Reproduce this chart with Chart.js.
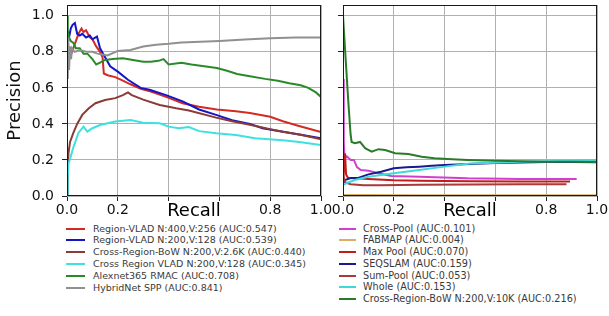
<!DOCTYPE html>
<html>
<head>
<meta charset="utf-8">
<script src="https://cdn.jsdelivr.net/npm/chart.js@4.4.1/dist/chart.umd.min.js"></script>
<style>
  html, body { margin:0; padding:0; background:#fff; }
  #wrap { position:relative; width:609px; height:316px; overflow:hidden; background:#fff; }
  canvas { position:absolute; top:0; }
  #c1 { left:0; }
  #c2 { left:320px; }
  .lg { position:absolute; font-family:"DejaVu Sans", sans-serif; font-size:9.5px; line-height:12px; color:#3a3a3a; white-space:nowrap; }
  .lgr { font-size:9.7px; }
  .lgl { position:absolute; height:2px; }
</style>
</head>
<body>
<div id="wrap">
  <canvas id="c1" width="336" height="222"></canvas>
  <canvas id="c2" width="289" height="222"></canvas>
</div>
<script>
// ---------- axis / tick data ----------
const xTicks = [0, 0.2, 0.4, 0.6, 0.8, 1.0];
const xTickLabels = ['0.0', '0.2', '', '', '0.8', '1.0'];
const yTicks = [0, 0.2, 0.4, 0.6, 0.8, 1.0];
const yTickLabels = ['0.0', '0.2', '0.4', '0.6', '0.8', '1.0'];
const xTitle = 'Recall';
const yTitle = 'Precision';

// ---------- left panel series ----------
const leftNames = [
  'Region-VLAD N:400,V:256 (AUC:0.547)',
  'Region-VLAD N:200,V:128 (AUC:0.539)',
  'Cross-Region-BoW N:200,V:2.6K (AUC:0.440)',
  'Cross Region VLAD N:200,V:128 (AUC:0.345)',
  'Alexnet365 RMAC  (AUC:0.708)',
  'HybridNet SPP (AUC:0.841)'
];
const leftColors = ['#d42a24', '#1515c8', '#8b3a36', '#3ee0e0', '#2a8a2a', '#909090'];

const rvlad400R = [0, 0.005, 0.01, 0.02, 0.03, 0.045, 0.057, 0.065, 0.075, 0.09, 0.1, 0.115, 0.13, 0.14, 0.145, 0.16, 0.19, 0.22, 0.25, 0.29, 0.33, 0.39, 0.455, 0.52, 0.59, 0.665, 0.72, 0.8, 0.85, 0.91, 0.96, 1.0];
const rvlad400P = [0.8, 0.78, 0.82, 0.8, 0.84, 0.9, 0.93, 0.91, 0.92, 0.88, 0.87, 0.83, 0.8, 0.77, 0.68, 0.67, 0.66, 0.64, 0.62, 0.595, 0.58, 0.55, 0.515, 0.495, 0.48, 0.47, 0.46, 0.44, 0.415, 0.39, 0.37, 0.355];

const rvlad200R = [0.003, 0.008, 0.015, 0.022, 0.031, 0.04, 0.05, 0.06, 0.075, 0.09, 0.1, 0.118, 0.13, 0.15, 0.17, 0.2, 0.24, 0.29, 0.325, 0.39, 0.455, 0.52, 0.587, 0.65, 0.72, 0.77, 0.85, 0.92, 1.0];
const rvlad200P = [0.85, 0.88, 0.93, 0.95, 0.96, 0.9, 0.89, 0.9, 0.88, 0.89, 0.87, 0.885, 0.82, 0.77, 0.72, 0.69, 0.645, 0.6, 0.59, 0.56, 0.525, 0.48, 0.45, 0.42, 0.4, 0.376, 0.357, 0.34, 0.32];

const crbow26R = [0, 0.003, 0.006, 0.012, 0.025, 0.04, 0.06, 0.086, 0.112, 0.15, 0.19, 0.22, 0.24, 0.255, 0.3, 0.365, 0.43, 0.48, 0.587, 0.65, 0.72, 0.8, 0.85, 0.92, 1.0];
const crbow26P = [0.0, 0.15, 0.24, 0.3, 0.35, 0.40, 0.45, 0.487, 0.515, 0.533, 0.543, 0.56, 0.575, 0.56, 0.535, 0.505, 0.487, 0.475, 0.435, 0.415, 0.395, 0.37, 0.357, 0.34, 0.315];

const crvladR = [0, 0.003, 0.006, 0.015, 0.025, 0.045, 0.065, 0.08, 0.1, 0.13, 0.19, 0.25, 0.3, 0.365, 0.4, 0.44, 0.48, 0.52, 0.587, 0.665, 0.74, 0.85, 0.914, 1.0];
const crvladP = [0.0, 0.1, 0.18, 0.22, 0.27, 0.35, 0.385, 0.357, 0.376, 0.394, 0.413, 0.422, 0.407, 0.404, 0.385, 0.376, 0.383, 0.36, 0.348, 0.339, 0.32, 0.31, 0.3, 0.283];

const alexR = [0, 0.003, 0.008, 0.015, 0.025, 0.035, 0.05, 0.065, 0.08, 0.1, 0.115, 0.13, 0.15, 0.18, 0.22, 0.26, 0.3, 0.33, 0.36, 0.38, 0.40, 0.45, 0.49, 0.54, 0.59, 0.63, 0.67, 0.72, 0.78, 0.83, 0.875, 0.92, 0.95, 0.98, 1.0];
const alexP = [1.0, 0.92, 0.88, 0.86, 0.85, 0.82, 0.82, 0.79, 0.79, 0.76, 0.73, 0.74, 0.755, 0.76, 0.765, 0.755, 0.745, 0.745, 0.75, 0.76, 0.73, 0.74, 0.73, 0.72, 0.71, 0.695, 0.677, 0.665, 0.65, 0.64, 0.626, 0.615, 0.60, 0.575, 0.55];

const hybridR = [0, 0.003, 0.005, 0.008, 0.012, 0.016, 0.02, 0.03, 0.05, 0.08, 0.1, 0.12, 0.14, 0.16, 0.2, 0.25, 0.3, 0.35, 0.4, 0.45, 0.5, 0.6, 0.7, 0.8, 0.9, 1.0];
const hybridP = [0.8, 0.65, 0.88, 0.7, 0.83, 0.76, 0.82, 0.8, 0.81, 0.8, 0.8, 0.79, 0.785, 0.78, 0.805, 0.81, 0.83, 0.84, 0.845, 0.852, 0.855, 0.86, 0.868, 0.875, 0.879, 0.88];

// ---------- right panel series ----------
const rightNames = [
  'Cross-Pool (AUC:0.101)',
  'FABMAP (AUC:0.004)',
  'Max Pool (AUC:0.070)',
  'SEQSLAM (AUC:0.159)',
  'Sum-Pool (AUC:0.053)',
  'Whole (AUC:0.153)',
  'Cross-Region-BoW N:200,V:10K (AUC:0.216)'
];
const rightColors = ['#d040d0', '#d8b060', '#c21c1c', '#1a1a90', '#a83a3a', '#40d8d8', '#2a7a2a'];

const crossPoolR = [0, 0.003, 0.006, 0.015, 0.03, 0.043, 0.055, 0.07, 0.1, 0.14, 0.19, 0.3, 0.49, 0.7, 0.92];
const crossPoolP = [0.65, 0.3, 0.21, 0.22, 0.2, 0.2, 0.16, 0.144, 0.14, 0.126, 0.111, 0.107, 0.098, 0.095, 0.094];

const fabmapR = [0, 0.1, 0.3, 0.5, 0.7, 0.9, 1.0];
const fabmapP = [0.006, 0.005, 0.004, 0.004, 0.004, 0.004, 0.004];

const maxPoolR = [0, 0.004, 0.008, 0.012, 0.02, 0.05, 0.1, 0.2, 0.3, 0.5, 0.7, 0.894];
const maxPoolP = [0.06, 0.15, 0.237, 0.12, 0.1, 0.098, 0.095, 0.088, 0.085, 0.082, 0.08, 0.08];

const seqslamR = [0, 0.01, 0.03, 0.06, 0.1, 0.15, 0.2, 0.25, 0.3, 0.35, 0.4, 0.5, 0.6, 0.7, 0.8, 0.9, 1.0];
const seqslamP = [0.07, 0.09, 0.1, 0.1, 0.12, 0.135, 0.154, 0.159, 0.163, 0.168, 0.172, 0.178, 0.183, 0.186, 0.188, 0.188, 0.187];

const sumPoolR = [0, 0.005, 0.01, 0.03, 0.08, 0.15, 0.3, 0.5, 0.7, 0.88];
const sumPoolP = [0.12, 0.09, 0.075, 0.065, 0.06, 0.06, 0.062, 0.064, 0.065, 0.065];

const wholeR = [0, 0.02, 0.05, 0.1, 0.2, 0.3, 0.4, 0.5, 0.6, 0.7, 0.8, 0.9, 1.0];
const wholeP = [0.06, 0.075, 0.09, 0.107, 0.126, 0.144, 0.163, 0.18, 0.185, 0.19, 0.193, 0.196, 0.2];

const crbow10R = [0, 0.01, 0.021, 0.03, 0.034, 0.047, 0.067, 0.087, 0.113, 0.14, 0.166, 0.205, 0.257, 0.31, 0.36, 0.43, 0.49, 0.6, 0.7, 0.8, 0.9, 1.0];
const crbow10P = [1.0, 0.77, 0.52, 0.34, 0.30, 0.293, 0.30, 0.265, 0.246, 0.26, 0.255, 0.237, 0.233, 0.218, 0.209, 0.204, 0.2, 0.195, 0.193, 0.19, 0.19, 0.188];

// ---------- build ----------
const pts = (r, p) => r.map((x, i) => ({ x: x, y: p[i] }));
const leftSeries = [[rvlad400R, rvlad400P], [rvlad200R, rvlad200P], [crbow26R, crbow26P], [crvladR, crvladP], [alexR, alexP], [hybridR, hybridP]];
const rightSeries = [[crossPoolR, crossPoolP], [fabmapR, fabmapP], [maxPoolR, maxPoolP], [seqslamR, seqslamP], [sumPoolR, sumPoolP], [wholeR, wholeP], [crbow10R, crbow10P]];

function makeDatasets(series, names, colors) {
  const n = series.length;
  return series.map((s, i) => ({
    label: names[i],
    data: pts(s[0], s[1]),
    borderColor: colors[i],
    backgroundColor: colors[i],
    borderWidth: 2,
    pointRadius: 0,
    tension: 0,
    fill: false,
    order: n - i
  }));
}

const FONT = '"DejaVu Sans", sans-serif';

const framePlugin = {
  id: 'frame',
  afterDraw(chart) {
    const ctx = chart.ctx, a = chart.chartArea;
    ctx.save();
    ctx.strokeStyle = '#1a1a1a';
    ctx.lineWidth = 1;
    const l = Math.round(a.left) + 0.5, t = Math.round(a.top) + 0.5;
    const r = Math.round(a.right) - 0.5, b = Math.round(a.bottom) - 0.5;
    ctx.strokeRect(l, t, r - l, b - t);
    ctx.fillStyle = '#000';
    ctx.font = '18px ' + FONT;
    ctx.textAlign = 'center';
    ctx.textBaseline = 'alphabetic';
    ctx.fillText(xTitle, chart.scales.x.getPixelForValue(0.5), 215.5);
    ctx.restore();
  }
};

function makeChart(id, datasets, yAxisWidth, padRight, showYLabels) {
  return new Chart(document.getElementById(id), {
    type: 'line',
    data: { datasets: datasets },
    plugins: [framePlugin],
    options: {
      responsive: false,
      animation: false,
      devicePixelRatio: 1,
      events: [],
      layout: { padding: { top: 5, right: padRight, left: 0, bottom: 0 } },
      plugins: { legend: { display: false }, tooltip: { enabled: false } },
      scales: {
        x: {
          type: 'linear', min: 0, max: 1,
          afterBuildTicks: s => { s.ticks = xTicks.map(v => ({ value: v })); },
          ticks: {
            callback: (v, i) => xTickLabels[i],
            font: { family: FONT, size: 14 }, color: '#111',
            padding: 1, maxRotation: 0, minRotation: 0, autoSkip: false
          },
          grid: { color: '#b0b0b0', lineWidth: 1, tickColor: '#222', tickLength: 5, drawTicks: true },
          border: { display: false },
          afterFit: s => { s.height = 26; s.paddingLeft = 0; s.paddingRight = 0; }
        },
        y: {
          type: 'linear', min: 0, max: 1.06,
          afterBuildTicks: s => { s.ticks = yTicks.map(v => ({ value: v })); },
          ticks: {
            callback: (v, i) => showYLabels ? yTickLabels[i] : '',
            font: { family: FONT, size: 14 }, color: '#111',
            padding: 8, autoSkip: false
          },
          title: showYLabels ? {
            display: true, text: yTitle, color: '#111',
            font: { family: FONT, size: 18 }, padding: { top: 5, bottom: 0 }
          } : { display: false },
          grid: { color: '#b0b0b0', lineWidth: 1, tickColor: '#222', tickLength: 5, drawTicks: true },
          border: { display: false },
          afterFit: s => { s.width = yAxisWidth; s.paddingTop = 0; s.paddingBottom = 0; }
        }
      }
    }
  });
}

makeChart('c1', makeDatasets(leftSeries, leftNames, leftColors), 67, 336 - 321, true);
makeChart('c2', makeDatasets(rightSeries, rightNames, rightColors), 23, 289 - 277, false);

// ---------- legends (HTML text) ----------
function addLegend(names, colors, lineX, lineW, textX, y0, dy, extraClass) {
  const wrap = document.getElementById('wrap');
  names.forEach((name, i) => {
    const yc = y0 + i * dy;
    const ln = document.createElement('div');
    ln.className = 'lgl';
    ln.style.left = lineX + 'px';
    ln.style.width = lineW + 'px';
    ln.style.top = (yc - 1) + 'px';
    ln.style.background = colors[i];
    wrap.appendChild(ln);
    const tx = document.createElement('div');
    tx.className = 'lg' + (extraClass ? ' ' + extraClass : '');
    tx.style.left = textX + 'px';
    tx.style.top = (yc - 6) + 'px';
    tx.textContent = name;
    wrap.appendChild(tx);
  });
}
addLegend(leftNames, leftColors, 66, 19, 93, 228.5, 11.9, '');
addLegend(rightNames, rightColors, 339, 17, 363, 228.5, 11.75, 'lgr');
</script>
</body>
</html>
